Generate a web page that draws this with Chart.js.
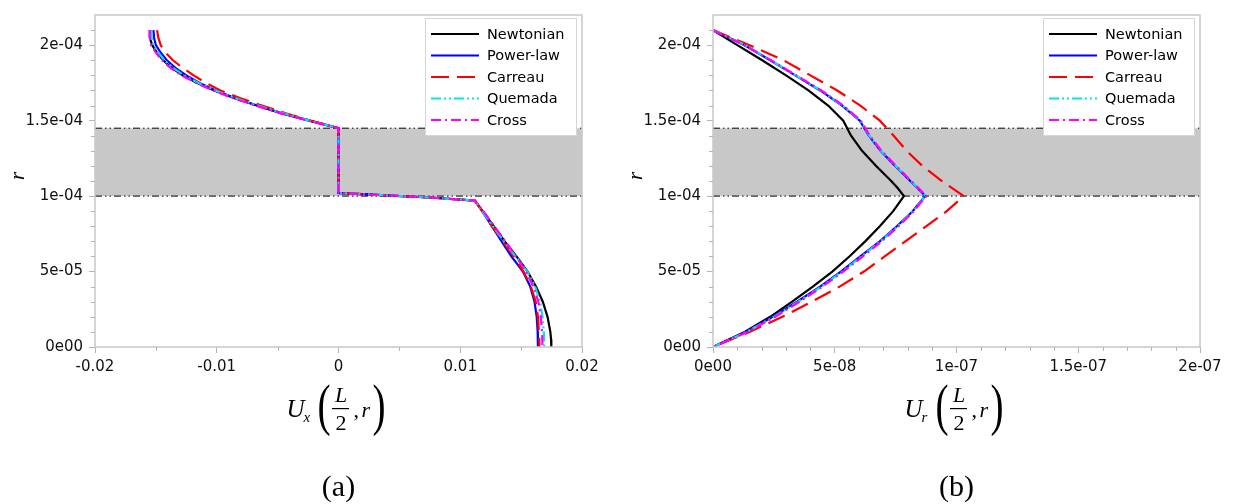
<!DOCTYPE html>
<html>
<head>
<meta charset="utf-8">
<script src="https://cdn.jsdelivr.net/npm/chart.js@4.4.1/dist/chart.umd.min.js"></script>
<style>
  body { margin: 0; background: #fff; }
  #wrap { position: relative; width: 1236px; height: 504px; }
  canvas { position: absolute; top: 0; }
</style>
</head>
<body>
<div id="wrap">
  <canvas id="chartA" width="618" height="504" style="left:0"></canvas>
  <canvas id="chartB" width="618" height="504" style="left:618px"></canvas>
</div>
<script>
const seriesNames = ["Newtonian", "Power-law", "Carreau", "Quemada", "Cross"];

// gray layer between the two dash-dot lines
const layerBottom = 1.0e-4;
const layerTop = 1.45e-4;

// shared r axis
const yTicks = [0, 5e-5, 1e-4, 1.5e-4, 2e-4];
const yLabels = ["0e00", "5e-05", "1e-04", "1.5e-04", "2e-04"];
const yMinor = [1e-5, 2e-5, 3e-5, 4e-5, 6e-5, 7e-5, 8e-5, 9e-5, 1.1e-4, 1.2e-4, 1.3e-4, 1.4e-4, 1.6e-4, 1.7e-4, 1.8e-4, 1.9e-4, 2.1e-4];

// (a) Ux(L/2, r)
const xTicksA = [-0.02, -0.01, 0, 0.01, 0.02];
const xLabelsA = ["-0.02", "-0.01", "0", "0.01", "0.02"];
const xMinorA = [-0.015, -0.005, 0.005, 0.015];

const rA = [2.10e-4, 2.05e-4, 2.00e-4, 1.95e-4, 1.90e-4, 1.85e-4, 1.80e-4, 1.75e-4, 1.70e-4, 1.65e-4, 1.60e-4, 1.55e-4, 1.50e-4, 1.45e-4,
  1.02e-4, 1.013e-4, 0.989e-4,
  0.97e-4, 0.90e-4, 0.80e-4, 0.70e-4, 0.60e-4, 0.50e-4, 0.40e-4, 0.30e-4, 0.20e-4, 0.10e-4, 0.05e-4, 0];

const uxNewtonian = [-0.0155, -0.0155, -0.0153, -0.0149, -0.0144, -0.0137, -0.0128, -0.0116, -0.0102, -0.0086, -0.0067, -0.0047, -0.0024, 0,
  0, 0.0019, 0.0078,
  0.0112, 0.01184, 0.01275, 0.01365, 0.01462, 0.01553, 0.01623, 0.01678, 0.01717, 0.0174, 0.01746, 0.01748];
const uxPowerLaw = [-0.0152, -0.01515, -0.0150, -0.0146, -0.0141, -0.0134, -0.0125, -0.0114, -0.0101, -0.0085, -0.0067, -0.0047, -0.0024, 0,
  0, 0.0019, 0.0078,
  0.0112, 0.0118, 0.0126, 0.0134, 0.0142, 0.01515, 0.01575, 0.0161, 0.01628, 0.01636, 0.01638, 0.01638];
const uxCarreau = [-0.0149, -0.0148, -0.0146, -0.0142, -0.0136, -0.0128, -0.0119, -0.0109, -0.0097, -0.0081, -0.0063, -0.0044, -0.0023, 0,
  0, 0.0019, 0.0078,
  0.0112, 0.0118, 0.0126, 0.0135, 0.0144, 0.0152, 0.0158, 0.0162, 0.01638, 0.01646, 0.01649, 0.0165];
const uxQuemada = [-0.0154, -0.01535, -0.0152, -0.0148, -0.0143, -0.0136, -0.0127, -0.0115, -0.0101, -0.0085, -0.0066, -0.0046, -0.0024, 0,
  0, 0.0019, 0.0078,
  0.0112, 0.0118, 0.0127, 0.01358, 0.01455, 0.0155, 0.01615, 0.01655, 0.01676, 0.01686, 0.01689, 0.0169];
const uxCross = [-0.0155, -0.0155, -0.0154, -0.0150, -0.0145, -0.0138, -0.0129, -0.0117, -0.0103, -0.0087, -0.0068, -0.0048, -0.0025, 0,
  0, 0.0019, 0.0078,
  0.0112, 0.0119, 0.0128, 0.0137, 0.0146, 0.0154, 0.0160, 0.01642, 0.01662, 0.01672, 0.01674, 0.01675];

// (b) Ur(L/2, r)
const xTicksB = [0, 5e-8, 1e-7, 1.5e-7, 2e-7];
const xLabelsB = ["0e00", "5e-08", "1e-07", "1.5e-07", "2e-07"];
const xMinorB = [1e-8, 2e-8, 3e-8, 4e-8, 6e-8, 7e-8, 8e-8, 9e-8, 1.1e-7, 1.2e-7, 1.3e-7, 1.4e-7, 1.6e-7, 1.7e-7, 1.8e-7, 1.9e-7];

const rB = [2.10e-4, 2.00e-4, 1.90e-4, 1.80e-4, 1.70e-4, 1.60e-4, 1.50e-4, 1.40e-4, 1.30e-4, 1.20e-4, 1.10e-4, 1.05e-4, 1.00e-4,
  0.95e-4, 0.90e-4, 0.80e-4, 0.70e-4, 0.60e-4, 0.50e-4, 0.40e-4, 0.30e-4, 0.20e-4, 0.10e-4, 0];

const urNewtonian = [0, 1.00e-8, 2.02e-8, 3.00e-8, 3.92e-8, 4.73e-8, 5.35e-8, 5.67e-8, 6.12e-8, 6.70e-8, 7.32e-8, 7.60e-8, 7.84e-8,
  7.62e-8, 7.40e-8, 6.85e-8, 6.25e-8, 5.60e-8, 4.90e-8, 4.10e-8, 3.25e-8, 2.35e-8, 1.30e-8, 0];
const urPowerLaw = [0, 1.30e-8, 2.35e-8, 3.38e-8, 4.40e-8, 5.30e-8, 6.03e-8, 6.40e-8, 6.88e-8, 7.48e-8, 8.10e-8, 8.42e-8, 8.72e-8,
  8.45e-8, 8.20e-8, 7.55e-8, 6.85e-8, 6.05e-8, 5.25e-8, 4.40e-8, 3.45e-8, 2.45e-8, 1.35e-8, 0];
const urCarreau = [0, 1.50e-8, 2.90e-8, 4.00e-8, 5.10e-8, 6.05e-8, 6.85e-8, 7.42e-8, 7.95e-8, 8.60e-8, 9.40e-8, 9.85e-8, 10.30e-8,
  9.95e-8, 9.60e-8, 8.75e-8, 7.90e-8, 7.05e-8, 6.20e-8, 5.20e-8, 4.05e-8, 2.85e-8, 1.50e-8, 0];
const urQuemada = [0, 1.32e-8, 2.37e-8, 3.40e-8, 4.42e-8, 5.32e-8, 6.05e-8, 6.42e-8, 6.90e-8, 7.50e-8, 8.12e-8, 8.44e-8, 8.74e-8,
  8.47e-8, 8.22e-8, 7.58e-8, 6.88e-8, 6.10e-8, 5.30e-8, 4.45e-8, 3.50e-8, 2.50e-8, 1.38e-8, 0];
const urCross = [0, 1.30e-8, 2.38e-8, 3.42e-8, 4.45e-8, 5.35e-8, 6.07e-8, 6.44e-8, 6.92e-8, 7.52e-8, 8.14e-8, 8.46e-8, 8.76e-8,
  8.50e-8, 8.25e-8, 7.62e-8, 6.93e-8, 6.15e-8, 5.35e-8, 4.50e-8, 3.55e-8, 2.55e-8, 1.42e-8, 0];

// line styles, same order as seriesNames
const styles = [
  { color: "#000000", dash: [] },
  { color: "#0000ff", dash: [] },
  { color: "#ff0000", dash: [18, 8] },
  { color: "#00e5ee", dash: [10, 3, 2, 3, 2, 3] },
  { color: "#ff00ff", dash: [10, 4, 2, 4] },
];

const tickFont = { family: "DejaVu Sans", size: 15 };

function points(rs, xs) {
  return rs.map((r, i) => ({ x: xs[i], y: r }));
}

// minor ticks, frame, legend box and the math labels
const decor = {
  id: "decor",
  afterDatasetsDraw(chart) {
    const { ctx, chartArea: a, scales } = chart;
    const cfg = chart.options.plugins.decor;
    ctx.save();
    // frame
    ctx.strokeStyle = "#c8c8c8";
    ctx.lineWidth = 1.5;
    ctx.strokeRect(a.left, a.top, a.right - a.left, a.bottom - a.top);
    // minor ticks
    ctx.strokeStyle = "#b4b4b4";
    ctx.lineWidth = 1;
    ctx.beginPath();
    cfg.xMinor.forEach((v) => {
      const px = Math.round(scales.x.getPixelForValue(v)) + 0.5;
      ctx.moveTo(px, a.bottom);
      ctx.lineTo(px, a.bottom + 4);
    });
    yMinor.forEach((v) => {
      const py = Math.round(scales.y.getPixelForValue(v)) + 0.5;
      ctx.moveTo(a.left - 4, py);
      ctx.lineTo(a.left, py);
    });
    ctx.stroke();

    // legend
    const left = a.right - 157, top = a.top + 3, w = 151, h = 117;
    ctx.fillStyle = "#fff";
    ctx.fillRect(left, top, w, h);
    ctx.strokeStyle = "#d6d6d6";
    ctx.strokeRect(left + 0.5, top + 0.5, w, h);
    ctx.font = '14.5px "DejaVu Sans"';
    ctx.textBaseline = "middle";
    ctx.textAlign = "left";
    chart.data.datasets.filter((d) => d.inLegend).forEach((d, i) => {
      const y = top + 16 + i * 21.5;
      ctx.beginPath();
      ctx.setLineDash(d.borderDash);
      ctx.strokeStyle = d.borderColor;
      ctx.lineWidth = 2.2;
      ctx.moveTo(left + 6, y);
      ctx.lineTo(left + 54, y);
      ctx.stroke();
      ctx.setLineDash([]);
      ctx.fillStyle = "#000";
      ctx.fillText(d.label, left + 62, y + 1);
    });
    ctx.restore();
  },
  afterDraw(chart) {
    const { ctx, chartArea: a } = chart;
    const cfg = chart.options.plugins.decor;
    const cx = (a.left + a.right) / 2;
    ctx.save();
    ctx.fillStyle = "#000";
    ctx.textBaseline = "alphabetic";

    // U_x ( L/2 , r )
    ctx.textAlign = "left";
    ctx.font = 'italic 25px "Liberation Serif"';
    ctx.fillText("U", cx - 52, 417);
    ctx.font = 'italic 15px "Liberation Serif"';
    ctx.fillText(cfg.sub, cx - 35, 422);
    ctx.font = '56px "Liberation Serif"';
    ctx.save();
    ctx.translate(cx - 21, 424);
    ctx.scale(0.7, 1);
    ctx.fillText("(", 0, 0);
    ctx.restore();
    ctx.save();
    ctx.translate(cx + 34, 424);
    ctx.scale(0.7, 1);
    ctx.fillText(")", 0, 0);
    ctx.restore();
    ctx.textAlign = "center";
    ctx.font = 'italic 22px "Liberation Serif"';
    ctx.fillText("L", cx + 2.5, 402);
    ctx.fillRect(cx - 6.5, 408, 17, 1.2);
    ctx.font = '22px "Liberation Serif"';
    ctx.fillText("2", cx + 2.5, 430);
    ctx.textAlign = "left";
    ctx.fillText(",", cx + 15, 417);
    ctx.font = 'italic 22px "Liberation Serif"';
    ctx.fillText("r", cx + 23, 417);

    // caption
    ctx.textAlign = "center";
    ctx.font = '30px "Liberation Serif"';
    ctx.fillText(cfg.caption, cx, 496);

    // y title
    ctx.save();
    ctx.translate(18, 176);
    ctx.rotate(-Math.PI / 2);
    ctx.font = 'italic 21px "Liberation Serif"';
    ctx.textBaseline = "middle";
    ctx.fillText("r", 0, 0);
    ctx.restore();
    ctx.restore();
  },
};

function makeChart(id, xMin, xMax, xTicks, xLabels, xMinor, rs, seriesX, sub, caption) {
  const datasets = seriesX.map((xs, i) => ({
    label: seriesNames[i],
    data: points(rs, xs),
    showLine: true,
    borderColor: styles[i].color,
    borderDash: styles[i].dash,
    borderWidth: 2.2,
    pointRadius: 0,
    tension: 0,
    fill: false,
    order: 5 - i,
    inLegend: true,
  }));
  // gray layer with its two dash-dot bounds
  datasets.push({
    data: [{ x: xMin, y: layerTop }, { x: xMax, y: layerTop }],
    showLine: true,
    borderColor: "#000",
    borderWidth: 1,
    borderDash: [7, 3, 1.5, 3, 1.5, 3],
    backgroundColor: "#c8c8c8",
    pointRadius: 0,
    fill: "+1",
    order: 20,
  });
  datasets.push({
    data: [{ x: xMin, y: layerBottom }, { x: xMax, y: layerBottom }],
    showLine: true,
    borderColor: "#000",
    borderWidth: 1,
    borderDash: [7, 3, 1.5, 3, 1.5, 3],
    pointRadius: 0,
    fill: false,
    order: 19,
  });

  return new Chart(document.getElementById(id), {
    type: "scatter",
    data: { datasets },
    options: {
      responsive: false,
      animation: false,
      devicePixelRatio: 1,
      layout: { padding: { left: 0, right: 36, top: 4, bottom: 0 } },
      plugins: {
        legend: { display: false },
        tooltip: { enabled: false },
        decor: { xMinor, sub, caption },
      },
      scales: {
        x: {
          type: "linear",
          min: xMin,
          max: xMax,
          afterBuildTicks: (s) => { s.ticks = xTicks.map((v) => ({ value: v })); },
          afterFit: (s) => { s.height = 157; },
          ticks: {
            callback: (v, i) => xLabels[i],
            font: tickFont,
            color: "#111",
            padding: 5,
            maxRotation: 0,
            autoSkip: false,
          },
          grid: { drawOnChartArea: false, drawTicks: true, tickLength: 6, color: "#b4b4b4" },
          border: { display: false },
        },
        y: {
          type: "linear",
          min: 0,
          max: 2.2e-4,
          afterBuildTicks: (s) => { s.ticks = yTicks.map((v) => ({ value: v })); },
          afterFit: (s) => { s.width = 95; },
          ticks: {
            callback: (v, i) => yLabels[i],
            font: tickFont,
            color: "#111",
            padding: 6,
            autoSkip: false,
          },
          grid: { drawOnChartArea: false, drawTicks: true, tickLength: 6, color: "#b4b4b4" },
          border: { display: false },
        },
      },
    },
    plugins: [decor],
  });
}

makeChart("chartA", -0.02, 0.02, xTicksA, xLabelsA, xMinorA, rA,
  [uxNewtonian, uxPowerLaw, uxCarreau, uxQuemada, uxCross], "x", "(a)");
makeChart("chartB", 0, 2e-7, xTicksB, xLabelsB, xMinorB, rB,
  [urNewtonian, urPowerLaw, urCarreau, urQuemada, urCross], "r", "(b)");
</script>
</body>
</html>
